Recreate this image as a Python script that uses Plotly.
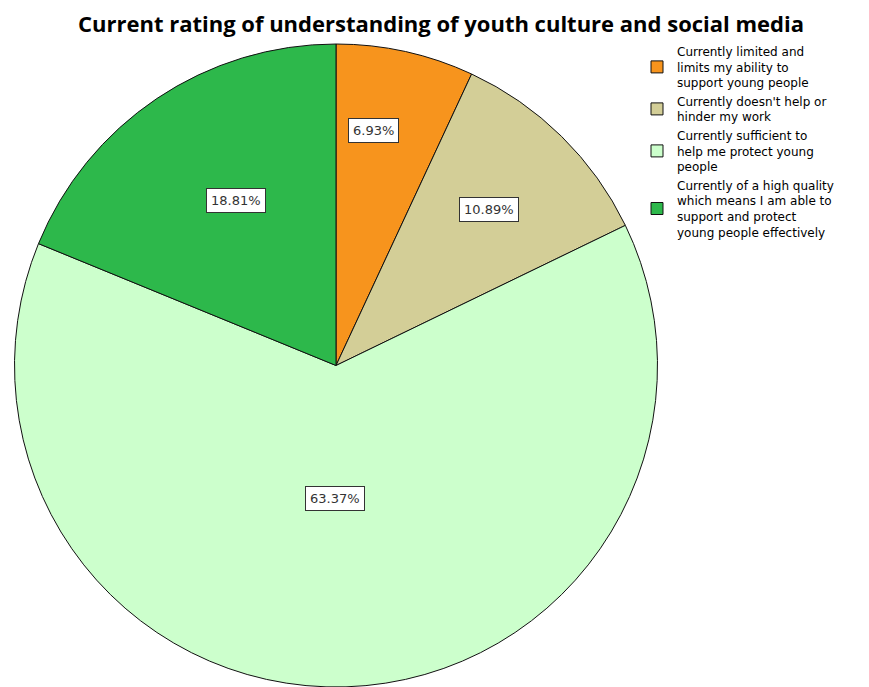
import math
import plotly.graph_objects as go

# Survey responses: current rating of understanding of youth culture and social media
categories = [
    "Currently limited and<br>limits my ability to<br>support young people",
    "Currently doesn't help or<br>hinder my work",
    "Currently sufficient to<br>help me protect young<br>people",
    "Currently of a high quality<br>which means I am able to<br>support and protect<br>young people effectively",
]
counts = [7, 11, 64, 19]
colors = ["#F7941D", "#D3CE97", "#CCFFCC", "#2DB84B"]

W, H = 869, 687
MT = 44
pie_domain_x = [0.0, 672 / W]

fig = go.Figure(
    go.Pie(
        labels=categories,
        values=counts,
        sort=False,
        direction="clockwise",
        rotation=0,
        marker=dict(colors=colors, line=dict(color="#111111", width=1)),
        textinfo="none",
        hoverinfo="label+percent",
        domain=dict(x=pie_domain_x, y=[0, 1]),
    )
)

# Boxed percentage labels, placed inside each slice along its angular span
total = sum(counts)
plot_h = H - MT
cx = (pie_domain_x[0] + pie_domain_x[1]) / 2 * W
cy = MT + plot_h / 2
radius = min((pie_domain_x[1] - pie_domain_x[0]) * W, plot_h) / 2
span_frac = [0.365, 0.5, 0.51, 0.54]
radial_frac = [0.74, 0.68, 0.415, 0.60]

start = 0.0
for v, sf, rf in zip(counts, span_frac, radial_frac):
    share = v / total
    ang = (start + share * sf) * 2 * math.pi
    start += share
    px = cx + rf * radius * math.sin(ang)
    py = cy - rf * radius * math.cos(ang)
    fig.add_annotation(
        x=px / W,
        y=1 - (py - MT) / plot_h,
        xref="paper",
        yref="paper",
        xanchor="center",
        yanchor="middle",
        text=f"{share * 100:.2f}%",
        showarrow=False,
        font=dict(family="DejaVu Sans", size=13, color="#333333"),
        bgcolor="white",
        bordercolor="#333333",
        borderwidth=1,
        borderpad=4,
    )

fig.update_layout(
    width=W,
    height=H,
    margin=dict(l=0, r=0, t=MT, b=0),
    paper_bgcolor="white",
    plot_bgcolor="white",
    title=dict(
        text="<b>Current rating of understanding of youth culture and social media</b>",
        x=441 / W,
        xanchor="center",
        y=1 - 24 / H,
        yanchor="middle",
        font=dict(family="Open Sans", size=22, color="black"),
    ),
    legend=dict(
        x=637 / W,
        xanchor="left",
        y=1 + 7 / plot_h,
        yanchor="top",
        font=dict(family="DejaVu Sans", size=12, color="black"),
        itemwidth=30,
        tracegroupgap=0,
        bgcolor="rgba(0,0,0,0)",
    ),
    showlegend=True,
)

fig.write_html("out.html")
